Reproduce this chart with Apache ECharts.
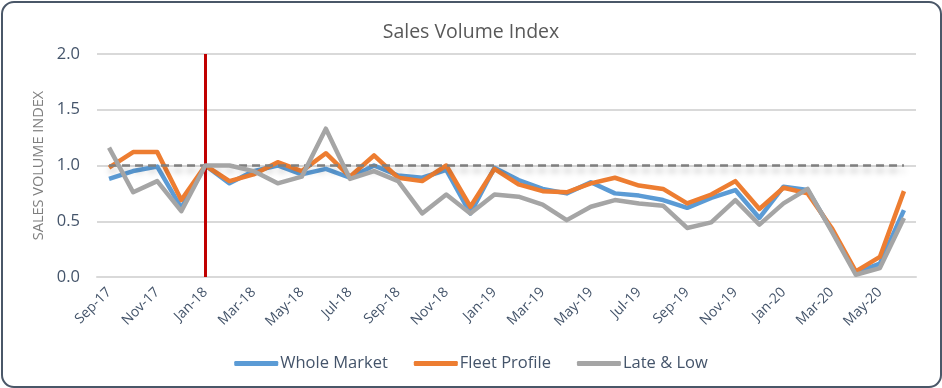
<!DOCTYPE html>
<html>
<head>
<meta charset="utf-8">
<script src="https://cdn.jsdelivr.net/npm/echarts@6/dist/echarts.min.js"></script>
<style>
html,body{margin:0;padding:0;background:#fff;}
#chart{width:942px;height:388px;}
</style>
</head>
<body>
<div id="chart"></div>
<script>
const categories = ['Sep-17','Oct-17','Nov-17','Dec-17','Jan-18','Feb-18','Mar-18','Apr-18','May-18','Jun-18','Jul-18','Aug-18',
  'Sep-18','Oct-18','Nov-18','Dec-18','Jan-19','Feb-19','Mar-19','Apr-19','May-19','Jun-19','Jul-19','Aug-19',
  'Sep-19','Oct-19','Nov-19','Dec-19','Jan-20','Feb-20','Mar-20','Apr-20','May-20','Jun-20'];
const wholeMarket = [0.88,0.95,0.99,0.62,1.00,0.84,0.95,1.00,0.92,0.97,0.89,1.00,
  0.91,0.89,0.96,0.57,0.98,0.87,0.79,0.75,0.85,0.75,0.73,0.69,
  0.62,0.71,0.78,0.53,0.81,0.78,0.42,0.04,0.12,0.60];
const fleetProfile = [0.98,1.12,1.12,0.69,1.00,0.86,0.92,1.03,0.95,1.11,0.90,1.09,
  0.89,0.86,1.00,0.63,0.97,0.83,0.77,0.76,0.84,0.89,0.82,0.79,
  0.66,0.74,0.86,0.61,0.80,0.75,0.44,0.05,0.18,0.77];
const lateLow = [1.16,0.76,0.86,0.59,1.00,1.00,0.95,0.84,0.90,1.33,0.88,0.95,
  0.86,0.57,0.74,0.57,0.74,0.72,0.65,0.51,0.63,0.69,0.66,0.64,
  0.44,0.49,0.69,0.47,0.66,0.79,0.41,0.02,0.08,0.53];
const yTicks = ['0.0','0.5','1.0','1.5','2.0'];
const referenceLevel = 1.0;
const markerMonth = 'Jan-18';

const font = '"Open Sans", "Noto Sans", sans-serif';
const chart = echarts.init(document.getElementById('chart'), null, {renderer:'canvas'});
chart.setOption({
  animation:false,
  backgroundColor:'#ffffff',
  graphic:[{
    type:'rect', left:1, top:1, z:-10,
    shape:{width:939, height:385, r:12},
    style:{fill:'#ffffff', stroke:'#4a5768', lineWidth:2}
  }],
  title:{
    text:'Sales Volume Index', left:'center', top:17,
    textStyle:{fontFamily:font, fontSize:19.5, fontWeight:'normal', color:'#595959'}
  },
  legend:{
    bottom:11, left:'center', itemGap:26, itemWidth:44, itemHeight:5, icon:'roundRect',
    textStyle:{fontFamily:font, fontSize:16.5, color:'#44546a', padding:[0,0,0,-3]},
    data:['Whole Market','Fleet Profile','Late & Low']
  },
  grid:{left:97, right:26, top:54, bottom:111},
  xAxis:{
    type:'category', data:categories, boundaryGap:true,
    axisLine:{show:true, lineStyle:{color:'#d9d9d9', width:2}},
    axisTick:{show:false},
    axisLabel:{interval:1, rotate:45, fontFamily:font, fontSize:14, color:'#44546a', margin:13}
  },
  yAxis:{
    type:'value', min:0, max:2, interval:0.5,
    name:'SALES VOLUME INDEX', nameLocation:'middle', nameGap:49, nameRotate:90,
    nameTextStyle:{fontFamily:font, fontSize:14.5, color:'#7f7f7f'},
    axisLine:{show:false}, axisTick:{show:false},
    axisLabel:{fontFamily:font, fontSize:16.5, color:'#44546a', margin:17,
      formatter:function(v){ return yTicks[Math.round(v/0.5)]; }},
    splitLine:{lineStyle:{color:'#d9d9d9', width:2}}
  },
  series:[
    {name:'Whole Market', type:'line', data:wholeMarket, showSymbol:false, symbol:'none',
     lineStyle:{color:'#5b9bd5', width:4.5, join:'round'}, itemStyle:{color:'#5b9bd5'}, z:3},
    {name:'Fleet Profile', type:'line', data:fleetProfile, showSymbol:false, symbol:'none',
     lineStyle:{color:'#ed7d31', width:4.5, join:'round'}, itemStyle:{color:'#ed7d31'}, z:4,
     markLine:{silent:true, symbol:'none', label:{show:false},
       lineStyle:{color:'#7f7f7f', type:[8,5], width:2.5, shadowColor:'rgba(0,0,0,0.35)', shadowBlur:6, shadowOffsetY:5},
       data:[[{coord:[categories[0], referenceLevel]},{coord:[categories[categories.length-1], referenceLevel]}]]}
    },
    {name:'Late & Low', type:'line', data:lateLow, showSymbol:false, symbol:'none',
     lineStyle:{color:'#a5a5a5', width:4.5, join:'round'}, itemStyle:{color:'#a5a5a5'}, z:5,
     markLine:{silent:true, symbol:'none', label:{show:false},
       lineStyle:{color:'#c00000', type:'solid', width:3},
       data:[{xAxis:markerMonth}]}
    }
  ]
});
</script>
</body>
</html>
